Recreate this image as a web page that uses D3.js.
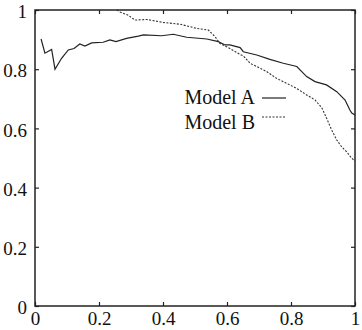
<!DOCTYPE html>
<html>
<head>
<meta charset="utf-8">
<script src="https://cdn.jsdelivr.net/npm/d3@7"></script>
<style>
  body { margin: 0; background: #fff; }
  svg { display: block; }
</style>
</head>
<body>
<div id="chart"></div>
<script>
// values
const xTicks = [0, 0.2, 0.4, 0.6, 0.8, 1];
const yTicks = [0, 0.2, 0.4, 0.6, 0.8, 1];
const seriesNames = ["Model A", "Model B"];

const modelAx = [0.019, 0.031, 0.052, 0.0625, 0.083, 0.104, 0.122, 0.14, 0.156, 0.177, 0.213, 0.234, 0.253, 0.286, 0.323, 0.339, 0.396, 0.432, 0.474, 0.537, 0.573, 0.594, 0.609, 0.641, 0.651, 0.693, 0.734, 0.776, 0.818, 0.849, 0.875, 0.911, 0.943, 0.969, 0.984, 0.99, 1.0];
const modelAy = [0.902, 0.854, 0.867, 0.80, 0.837, 0.865, 0.870, 0.885, 0.878, 0.889, 0.891, 0.899, 0.893, 0.904, 0.912, 0.916, 0.913, 0.918, 0.908, 0.902, 0.893, 0.882, 0.882, 0.873, 0.859, 0.848, 0.833, 0.820, 0.809, 0.775, 0.758, 0.747, 0.724, 0.696, 0.662, 0.652, 0.645];

const modelBx = [0.256, 0.266, 0.29, 0.3125, 0.349, 0.401, 0.453, 0.505, 0.542, 0.5625, 0.578, 0.609, 0.641, 0.651, 0.672, 0.693, 0.724, 0.755, 0.787, 0.818, 0.849, 0.875, 0.896, 0.911, 0.927, 0.943, 0.958, 0.974, 0.99, 1.0];
const modelBy = [1.0, 0.993, 0.983, 0.966, 0.968, 0.958, 0.952, 0.938, 0.932, 0.910, 0.887, 0.870, 0.850, 0.845, 0.820, 0.809, 0.792, 0.769, 0.752, 0.735, 0.713, 0.696, 0.670, 0.635, 0.595, 0.561, 0.538, 0.521, 0.499, 0.490];

const width = 362;
const height = 330;
const margins = { top: 10, bottom: 24, left: 35, right: 7 };
const serif = "'Liberation Serif', 'DejaVu Serif', serif";

const svg = d3
  .select("#chart")
  .append("svg")
  .attr("width", width)
  .attr("height", height);

const xScale = d3
  .scaleLinear()
  .domain([0, 1])
  .range([margins.left, width - margins.right]);

const yScale = d3
  .scaleLinear()
  .domain([0, 1])
  .range([height - margins.bottom, margins.top]);

// axes, ticks point inward like gnuplot
svg.append("g")
  .attr("transform", `translate(0, ${height - margins.bottom})`)
  .call(d3.axisBottom(xScale).tickValues(xTicks).tickFormat(d3.format("~g")).tickSizeInner(-4).tickSizeOuter(0).tickPadding(6))
  .call(g => g.select(".domain").remove());

svg.append("g")
  .attr("transform", `translate(${margins.left}, 0)`)
  .call(d3.axisLeft(yScale).tickValues(yTicks).tickFormat(d3.format("~g")).tickSizeInner(-4).tickSizeOuter(0).tickPadding(8))
  .call(g => g.select(".domain").remove())
  .call(g => g.selectAll("text").attr("dy", "0.4em"));

// mirrored ticks, no labels
svg.append("g")
  .attr("transform", `translate(0, ${margins.top})`)
  .call(d3.axisTop(xScale).tickValues(xTicks).tickFormat("").tickSizeInner(-4).tickSizeOuter(0))
  .call(g => g.select(".domain").remove());

svg.append("g")
  .attr("transform", `translate(${width - margins.right}, 0)`)
  .call(d3.axisRight(yScale).tickValues(yTicks).tickFormat("").tickSizeInner(-4).tickSizeOuter(0))
  .call(g => g.select(".domain").remove());

svg.selectAll(".tick line").attr("stroke", "#222").attr("stroke-width", 1.2);
svg.selectAll(".tick text")
  .style("font-family", serif)
  .style("font-size", "19px")
  .attr("fill", "#111");

// frame
svg.append("rect")
  .attr("x", xScale(0))
  .attr("y", yScale(1))
  .attr("width", xScale(1) - xScale(0))
  .attr("height", yScale(0) - yScale(1))
  .attr("fill", "none")
  .attr("stroke", "#222")
  .attr("stroke-width", 1.5);

const line = d3.line()
  .x(d => xScale(d[0]))
  .y(d => yScale(d[1]));

const dataA = d3.zip(modelAx, modelAy);
const dataB = d3.zip(modelBx, modelBy);

svg.append("path")
  .datum(dataA)
  .attr("d", line)
  .attr("fill", "none")
  .attr("stroke", "#222")
  .attr("stroke-width", 1.2);

svg.append("path")
  .datum(dataB)
  .attr("d", line)
  .attr("fill", "none")
  .attr("stroke", "#333")
  .attr("stroke-width", 1.1)
  .attr("stroke-dasharray", "2,1.5");

// legend
const legend = svg.append("g")
  .style("font-family", serif)
  .style("font-size", "20px")
  .attr("fill", "#111");

legend.append("text")
  .attr("x", 255)
  .attr("y", 104)
  .attr("text-anchor", "end")
  .text(seriesNames[0]);

legend.append("text")
  .attr("x", 255)
  .attr("y", 129)
  .attr("text-anchor", "end")
  .text(seriesNames[1]);

legend.append("line")
  .attr("x1", 262).attr("x2", 286)
  .attr("y1", 98).attr("y2", 98)
  .attr("stroke", "#222")
  .attr("stroke-width", 1.2);

legend.append("line")
  .attr("x1", 262).attr("x2", 286)
  .attr("y1", 117).attr("y2", 117)
  .attr("stroke", "#333")
  .attr("stroke-width", 1.1)
  .attr("stroke-dasharray", "2,1.5");
</script>
</body>
</html>
